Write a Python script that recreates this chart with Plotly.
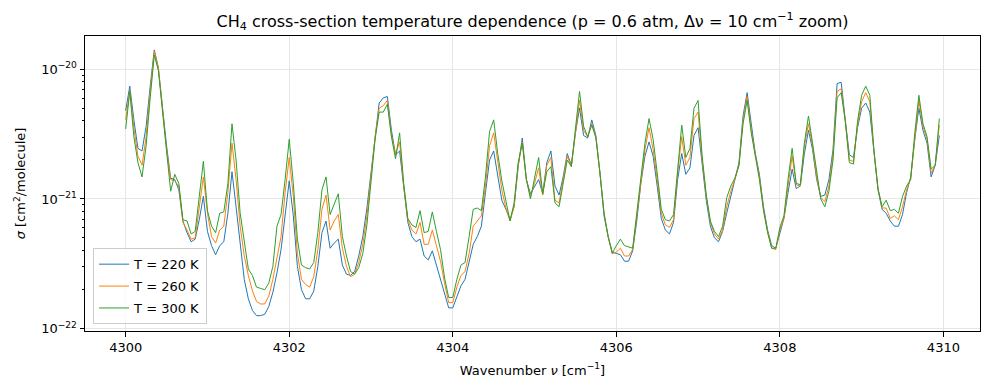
import numpy as np
import plotly.graph_objects as go

# Wavenumber grid (cm^-1): 4300.00 ... 4309.95, step 0.05
wavenumber = np.round(4300.0 + 0.05 * np.arange(200), 2)

# log10 of cross-section sigma [cm^2/molecule]
log10_sigma_220K = [
    -20.32, -20.13, -20.39, -20.61, -20.63, -20.44, -20.13, -19.85, -19.99, -20.30,
    -20.59, -20.84, -20.85, -20.93, -21.17, -21.26, -21.33, -21.31, -21.16, -20.98,
    -21.25, -21.36, -21.43, -21.36, -21.33, -21.11, -20.79, -21.06, -21.36, -21.62,
    -21.77, -21.86, -21.90, -21.90, -21.89, -21.83, -21.72, -21.57, -21.39, -21.11,
    -20.86, -21.13, -21.52, -21.70, -21.77, -21.77, -21.71, -21.52, -21.26, -21.17,
    -21.38, -21.34, -21.31, -21.51, -21.58, -21.59, -21.56, -21.44, -21.29, -21.07,
    -20.80, -20.49, -20.26, -20.22, -20.21, -20.47, -20.66, -20.63, -20.93, -21.18,
    -21.29, -21.33, -21.31, -21.44, -21.47, -21.40, -21.51, -21.62, -21.75, -21.84,
    -21.84, -21.75, -21.67, -21.62, -21.48, -21.35, -21.29, -21.21, -20.95, -20.70,
    -20.63, -20.83, -21.01, -21.08, -21.16, -21.06, -20.75, -20.53, -20.85, -20.96,
    -20.90, -20.85, -20.96, -20.72, -20.63, -20.90, -20.97, -20.83, -20.65, -20.74,
    -20.49, -20.30, -20.51, -20.53, -20.39, -20.51, -20.80, -21.13, -21.29, -21.41,
    -21.42, -21.43, -21.48, -21.48, -21.40, -21.17, -20.88, -20.67, -20.56, -20.67,
    -20.90, -21.15, -21.24, -21.27, -21.18, -20.85, -20.65, -20.81, -20.76, -20.51,
    -20.45, -20.72, -21.01, -21.21, -21.30, -21.33, -21.25, -21.11, -20.98, -20.86,
    -20.72, -20.36, -20.18, -20.42, -20.65, -20.81, -21.06, -21.24, -21.36, -21.38,
    -21.26, -21.15, -20.95, -20.77, -20.92, -20.90, -20.65, -20.47, -20.62, -20.85,
    -20.98, -20.97, -20.85, -20.62, -20.11, -20.10, -20.39, -20.66, -20.68, -20.45,
    -20.30, -20.26, -20.33, -20.65, -20.93, -21.08, -21.11, -21.17, -21.21, -21.21,
    -21.12, -20.95, -20.83, -20.54, -20.30, -20.47, -20.57, -20.83, -20.74, -20.51,
]

log10_sigma_260K = [
    -20.39, -20.16, -20.45, -20.67, -20.74, -20.52, -20.17, -19.86, -19.99, -20.31,
    -20.62, -20.85, -20.86, -20.90, -21.18, -21.24, -21.31, -21.30, -21.06, -20.83,
    -21.11, -21.29, -21.34, -21.24, -21.21, -20.95, -20.57, -20.85, -21.21, -21.44,
    -21.59, -21.71, -21.79, -21.81, -21.81, -21.75, -21.62, -21.44, -21.29, -20.95,
    -20.68, -20.98, -21.42, -21.62, -21.66, -21.68, -21.60, -21.39, -21.08, -20.97,
    -21.24, -21.17, -21.12, -21.38, -21.52, -21.60, -21.58, -21.49, -21.35, -21.13,
    -20.83, -20.52, -20.30, -20.28, -20.24, -20.51, -20.65, -20.56, -20.90, -21.16,
    -21.24, -21.27, -21.18, -21.35, -21.35, -21.24, -21.36, -21.48, -21.65, -21.80,
    -21.80, -21.68, -21.59, -21.56, -21.42, -21.21, -21.17, -21.13, -20.90, -20.59,
    -20.49, -20.72, -20.93, -21.07, -21.17, -21.06, -20.74, -20.56, -20.85, -20.98,
    -20.88, -20.76, -20.97, -20.74, -20.68, -21.01, -21.03, -20.85, -20.67, -20.75,
    -20.47, -20.24, -20.47, -20.52, -20.42, -20.52, -20.80, -21.11, -21.29, -21.42,
    -21.41, -21.38, -21.44, -21.44, -21.39, -21.13, -20.85, -20.62, -20.45, -20.62,
    -20.85, -21.11, -21.20, -21.22, -21.16, -20.80, -20.52, -20.74, -20.68, -20.38,
    -20.33, -20.70, -20.98, -21.18, -21.27, -21.31, -21.24, -21.06, -20.94, -20.85,
    -20.74, -20.39, -20.21, -20.47, -20.66, -20.83, -21.08, -21.25, -21.38, -21.39,
    -21.24, -21.15, -20.90, -20.67, -20.89, -20.90, -20.59, -20.42, -20.59, -20.83,
    -20.99, -21.02, -20.90, -20.66, -20.17, -20.15, -20.40, -20.70, -20.71, -20.43,
    -20.25, -20.18, -20.25, -20.63, -20.92, -21.07, -21.07, -21.15, -21.13, -21.16,
    -21.06, -20.93, -20.84, -20.52, -20.24, -20.44, -20.54, -20.80, -20.74, -20.43,
]

log10_sigma_300K = [
    -20.46, -20.17, -20.52, -20.72, -20.83, -20.59, -20.22, -19.89, -20.01, -20.34,
    -20.66, -20.94, -20.81, -20.88, -21.16, -21.17, -21.27, -21.25, -20.98, -20.71,
    -21.09, -21.21, -21.26, -21.11, -21.10, -20.88, -20.42, -20.70, -21.11, -21.34,
    -21.54, -21.59, -21.68, -21.69, -21.70, -21.65, -21.52, -21.21, -21.12, -20.85,
    -20.54, -20.88, -21.31, -21.51, -21.53, -21.54, -21.49, -21.26, -20.93, -20.83,
    -21.12, -21.04, -20.96, -21.29, -21.44, -21.56, -21.58, -21.53, -21.42, -21.20,
    -20.85, -20.54, -20.33, -20.33, -20.27, -20.52, -20.69, -20.49, -20.88, -21.15,
    -21.20, -21.22, -21.09, -21.26, -21.25, -21.10, -21.25, -21.39, -21.61, -21.76,
    -21.76, -21.62, -21.51, -21.49, -21.29, -21.08, -21.07, -21.09, -20.83, -20.48,
    -20.39, -20.65, -20.86, -21.03, -21.17, -21.03, -20.72, -20.57, -20.85, -21.00,
    -20.83, -20.68, -20.96, -20.79, -20.75, -21.03, -21.06, -20.88, -20.70, -20.75,
    -20.47, -20.17, -20.44, -20.52, -20.43, -20.53, -20.80, -21.11, -21.29, -21.42,
    -21.36, -21.31, -21.36, -21.37, -21.38, -21.11, -20.83, -20.57, -20.38, -20.54,
    -20.80, -21.08, -21.16, -21.17, -21.12, -20.75, -20.43, -20.68, -20.61, -20.30,
    -20.24, -20.67, -20.97, -21.17, -21.25, -21.29, -21.21, -20.99, -20.90, -20.84,
    -20.74, -20.42, -20.24, -20.49, -20.67, -20.85, -21.09, -21.26, -21.38, -21.38,
    -21.22, -21.13, -20.85, -20.61, -20.88, -20.89, -20.57, -20.36, -20.57, -20.80,
    -21.00, -21.06, -20.94, -20.70, -20.22, -20.18, -20.40, -20.72, -20.73, -20.40,
    -20.20, -20.13, -20.20, -20.62, -20.92, -21.06, -21.01, -21.09, -21.08, -21.11,
    -20.98, -20.90, -20.85, -20.49, -20.20, -20.42, -20.52, -20.77, -20.74, -20.38,
]

series_names = ["T = 220 K", "T = 260 K", "T = 300 K"]
series_colors = ["#1f77b4", "#ff7f0e", "#2ca02c"]
series_logs = [log10_sigma_220K, log10_sigma_260K, log10_sigma_300K]

x_tickvals = [4300, 4302, 4304, 4306, 4308, 4310]
y_tickvals = [1e-22, 1e-21, 1e-20]
y_ticktext = ["10<sup>\u221222</sup>", "10<sup>\u221221</sup>", "10<sup>\u221220</sup>"]
y_minor = [m * 10.0 ** e for e in (-22, -21, -20) for m in range(2, 10)]

FONT = "DejaVu Sans"

fig = go.Figure()
for name, color, logs in zip(series_names, series_colors, series_logs):
    fig.add_trace(go.Scatter(
        x=wavenumber, y=10.0 ** np.array(logs), mode="lines", name=name,
        legendgroup=name,
        line=dict(color=color, width=1.0),
    ))

axis_common = dict(
    showline=True, linecolor="black", linewidth=1, mirror=True,
    ticks="outside", ticklen=4.5, tickwidth=1, tickcolor="black",
    showgrid=True, gridcolor="#e6e6e6", gridwidth=1, zeroline=False,
    tickfont=dict(family=FONT, size=13, color="black"),
)

fig.update_layout(
    width=989, height=390,
    margin=dict(l=85, r=9, t=36, b=59, autoexpand=False),
    paper_bgcolor="white", plot_bgcolor="white",
    font=dict(family=FONT, size=13, color="black"),
    title=dict(
        text="CH<sub>4</sub> cross-section temperature dependence (p = 0.6 atm, \u0394\u03bd = 10 cm<sup>\u22121</sup> zoom)",
        x=0.5385, xanchor="center", y=0.946, yanchor="middle", yref="container",
        font=dict(family=FONT, size=16, color="black"),
    ),
    xaxis=dict(
        **axis_common,
        range=[4299.5025, 4310.4475],
        tickvals=x_tickvals,
        title=dict(text="Wavenumber <i>\u03bd</i> [cm<sup>\u22121</sup>]",
                   font=dict(family=FONT, size=13, color="black"), standoff=11),
    ),
    yaxis=dict(
        **axis_common,
        type="log",
        range=[-22.0185, -19.743],
        tickvals=y_tickvals, ticktext=y_ticktext,
        minor=dict(tickvals=y_minor, ticks="outside", ticklen=2.5, tickwidth=0.8,
                   tickcolor="black", showgrid=False),
        title=dict(text="<i>\u03c3</i> [cm<sup>2</sup>/molecule]",
                   font=dict(family=FONT, size=13, color="black"), standoff=12),
    ),
    legend=dict(
        x=0.009, y=0.023, xanchor="left", yanchor="bottom",
        bgcolor="rgba(255,255,255,0.8)", bordercolor="#cccccc", borderwidth=1,
        font=dict(family=FONT, size=13, color="black"),
        itemwidth=30, tracegroupgap=2, traceorder="grouped",
    ),
    showlegend=True,
)

fig.write_html(
    "out.html",
    config={"displayModeBar": False},
    post_script="document.body.style.margin='0px';document.body.style.overflow='hidden';",
)
